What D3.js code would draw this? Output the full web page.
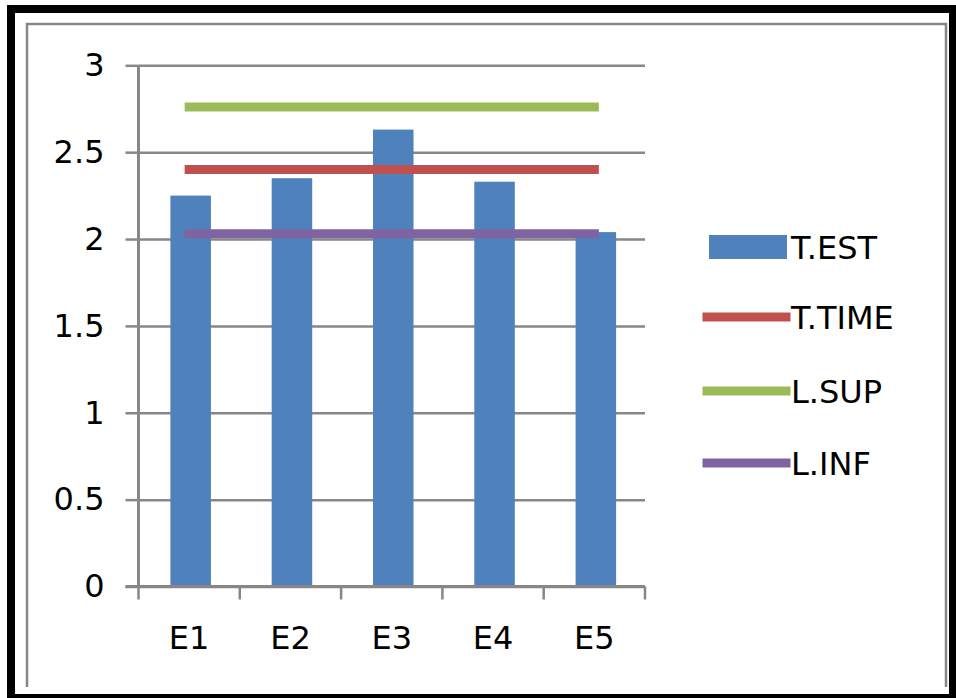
<!DOCTYPE html>
<html>
<head>
<meta charset="utf-8">
<script src="https://cdn.jsdelivr.net/npm/d3@7"></script>
<style>
  html, body { margin: 0; padding: 0; background: #fff; }
  svg { display: block; }
  text { font-family: "DejaVu Sans", sans-serif; fill: #000; }
</style>
</head>
<body>
<svg id="chart" width="956" height="698"></svg>
<script>
// Chart data
const categories = ["E1", "E2", "E3", "E4", "E5"];
const tEst = [2.25, 2.35, 2.63, 2.33, 2.04];
const tTime = [2.40, 2.40, 2.40, 2.40, 2.40];
const lSup = [2.76, 2.76, 2.76, 2.76, 2.76];
const lInf = [2.03, 2.03, 2.03, 2.03, 2.03];
const yTicks = [0, 0.5, 1, 1.5, 2, 2.5, 3];
const legendLabels = ["T.EST", "T.TIME", "L.SUP", "L.INF"];

const colors = { bar: "#4F81BD", time: "#C0504D", sup: "#9BBB59", inf: "#8064A2" };
const gray = "#878787";

const svg = d3.select("#chart");

// Frame: heavy black edge and a thin gray chart border
svg.append("rect").attr("x", 7).attr("y", 5).attr("width", 960).attr("height", 8).attr("fill", "#000");
svg.append("rect").attr("x", 7).attr("y", 5).attr("width", 8).attr("height", 700).attr("fill", "#000");
svg.append("rect").attr("x", 7).attr("y", 694).attr("width", 960).attr("height", 8).attr("fill", "#000");
svg.append("rect").attr("x", 949).attr("y", 5).attr("width", 10).attr("height", 700).attr("fill", "#000");
svg.append("path")
  .attr("d", "M27,687 V24 H946 V687")
  .attr("fill", "none").attr("stroke", gray).attr("stroke-width", 2.5);

// Plot area
const plotLeft = 138.5, plotRight = 645, plotTop = 65.3, plotBottom = 586.5;

const x = d3.scaleBand().domain(categories).range([plotLeft, plotRight]).padding(0);
const y = d3.scaleLinear().domain([0, 3]).range([plotBottom, plotTop]);

// Horizontal gridlines
svg.append("g")
  .attr("transform", `translate(${plotLeft},0)`)
  .call(d3.axisLeft(y).tickValues(yTicks).tickSize(-(plotRight - plotLeft)).tickFormat(""))
  .call(g => g.select(".domain").remove())
  .call(g => g.selectAll("line").attr("stroke", gray).attr("stroke-width", 2.5));

// Y axis with outward ticks and labels
svg.append("g")
  .attr("transform", `translate(${plotLeft},0)`)
  .call(d3.axisLeft(y).tickValues(yTicks).tickSize(13).tickPadding(21).tickFormat(d3.format("")))
  .call(g => g.select(".domain").attr("stroke", gray).attr("stroke-width", 3)
                .attr("d", `M0,${plotTop} V${plotBottom}`))
  .call(g => g.selectAll(".tick line").attr("stroke", gray).attr("stroke-width", 2.5))
  .call(g => g.selectAll(".tick text").attr("font-size", 32).attr("font-family", "DejaVu Sans").attr("fill", "#000"));

// Bars
const barW = x.bandwidth() * 0.4;
svg.append("g").selectAll("rect")
  .data(categories.map((c, i) => ({ c, v: tEst[i] })))
  .join("rect")
  .attr("x", d => x(d.c) + x.bandwidth() / 2 - barW / 2 + 1.5)
  .attr("y", d => y(d.v))
  .attr("width", barW)
  .attr("height", d => y(0) - y(d.v))
  .attr("fill", colors.bar);

// Reference lines across category centers
const line = d3.line()
  .x((d, i) => x(categories[i]) + x.bandwidth() / 2)
  .y(d => y(d));
[[lSup, colors.sup], [tTime, colors.time], [lInf, colors.inf]].forEach(([vals, col]) => {
  svg.append("path")
    .datum(vals)
    .attr("d", line)
    .attr("fill", "none")
    .attr("stroke", col)
    .attr("stroke-width", 9)
    .attr("stroke-linecap", "square");
});

// X axis: baseline, boundary ticks and category labels
svg.append("g")
  .attr("transform", `translate(0,${plotBottom})`)
  .call(d3.axisBottom(x).tickSize(0).tickPadding(40))
  .call(g => g.select(".domain").attr("stroke", gray).attr("stroke-width", 3).attr("d", `M${plotLeft - 13},0 H${plotRight}`))
  .call(g => g.selectAll(".tick text").attr("font-size", 32).attr("font-family", "DejaVu Sans").attr("fill", "#000"));

const bounds = categories.map(c => x(c)).concat([x(categories[categories.length - 1]) + x.bandwidth()]);
svg.append("g").selectAll("line")
  .data(bounds)
  .join("line")
  .attr("x1", d => d).attr("x2", d => d)
  .attr("y1", plotBottom).attr("y2", plotBottom + 13)
  .attr("stroke", gray).attr("stroke-width", 2.5);

// Legend
const legend = svg.append("g");
const legendY = [247, 317, 391, 463];
legendLabels.forEach((lab, i) => {
  const cy = legendY[i];
  if (i === 0) {
    legend.append("rect").attr("x", 709).attr("y", cy - 12).attr("width", 78).attr("height", 24).attr("fill", colors.bar);
  } else {
    const col = [colors.time, colors.sup, colors.inf][i - 1];
    legend.append("line").attr("x1", 707).attr("x2", 786).attr("y1", cy).attr("y2", cy)
      .attr("stroke", col).attr("stroke-width", 9).attr("stroke-linecap", "square");
  }
  legend.append("text").attr("x", 791).attr("y", cy).attr("dy", "0.36em")
    .attr("font-size", 32).text(lab);
});
</script>
</body>
</html>
